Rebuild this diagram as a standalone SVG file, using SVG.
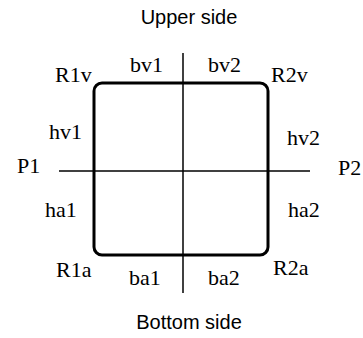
<svg xmlns="http://www.w3.org/2000/svg" width="363" height="338" viewBox="0 0 363 338">
<style>
.s{font-family:"Liberation Sans",Arial,sans-serif;font-size:20px;fill:#000;text-anchor:middle}
.t{font-family:"Liberation Serif","Times New Roman",serif;font-size:22px;fill:#000}
.ln{stroke:#000;stroke-width:1.5;fill:none}
.box{stroke:#000;stroke-width:3;fill:none}
</style>
<rect width="363" height="338" fill="#fff"/>
<g id="box"><rect class="box" x="94" y="83" width="174" height="172" rx="8" ry="8"/></g>
<g id="axes">
<line class="ln" x1="183" y1="53" x2="183" y2="293"/>
<line class="ln" x1="59" y1="171" x2="310" y2="171"/>
</g>
<g id="sides">
<text class="s" x="189" y="24">Upper side</text>
<text class="s" x="189" y="329">Bottom side</text>
</g>
<g id="labels">
<text class="t" x="55" y="82">R1v</text>
<text class="t" x="130" y="72">bv1</text>
<text class="t" x="208" y="72">bv2</text>
<text class="t" x="271" y="82">R2v</text>
<text class="t" x="49" y="139">hv1</text>
<text class="t" x="287" y="145">hv2</text>
<text class="t" x="17" y="173">P1</text>
<text class="t" x="338" y="175">P2</text>
<text class="t" x="45" y="217">ha1</text>
<text class="t" x="288" y="217">ha2</text>
<text class="t" x="56" y="277">R1a</text>
<text class="t" x="129" y="285">ba1</text>
<text class="t" x="208" y="285">ba2</text>
<text class="t" x="273" y="275">R2a</text>
</g>
</svg>
